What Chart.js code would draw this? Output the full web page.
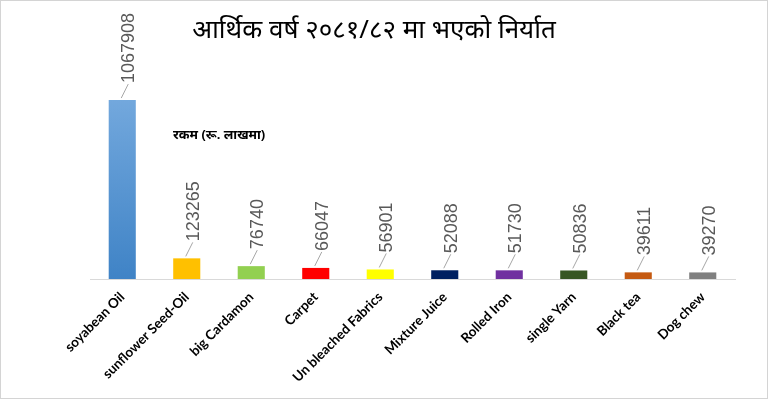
<!DOCTYPE html>
<html>
<head>
<meta charset="utf-8">
<script src="https://cdn.jsdelivr.net/npm/chart.js@4.4.1/dist/chart.umd.min.js"></script>
<style>
  html, body { margin: 0; padding: 0; background: #fff; }
  #wrap { position: relative; width: 768px; height: 399px; box-sizing: border-box; border: 1px solid #d4d4d4; }
</style>
</head>
<body>
<div id="wrap"><canvas id="exportChart"></canvas></div>
<script>
const products = ["soyabean Oil", "sunflower Seed-Oil", "big Cardamon", "Carpet", "Un bleached Fabrics",
  "Mixture Juice", "Rolled Iron", "single Yarn", "Black tea", "Dog chew"];
const amounts = [1067908, 123265, 76740, 66047, 56901, 52088, 51730, 50836, 39611, 39270];
const barColors = ["#5b9bd5", "#ffc000", "#92d050", "#ff0000", "#ffff00",
  "#002060", "#7030a0", "#375623", "#c55a11", "#808080"];
const chartTitle = "आर्थिक वर्ष २०८१/८२ मा भएको निर्यात";
const unitNote = "रकम (रू. लाखमा)";

// rotated value labels with a small leader line, like the excel export
const valueLabels = {
  id: "valueLabels",
  afterDatasetsDraw(chart) {
    const ctx = chart.ctx;
    const meta = chart.getDatasetMeta(0);
    ctx.save();
    ctx.font = "18px 'Liberation Sans', Arial, sans-serif";
    ctx.fillStyle = "#595959";
    ctx.strokeStyle = "#a6a6a6";
    ctx.lineWidth = 1;
    meta.data.forEach((bar, i) => {
      const x = bar.x, y = bar.y;
      ctx.beginPath();
      ctx.moveTo(x - 1, y - 2);
      ctx.lineTo(x + 6, y - 16);
      ctx.stroke();
      ctx.save();
      ctx.translate(x + 12, y - 17);
      ctx.rotate(-Math.PI / 2);
      ctx.textAlign = "left";
      ctx.textBaseline = "alphabetic";
      ctx.fillText(String(amounts[i]), 0, 0);
      ctx.restore();
    });
    ctx.restore();
  }
};

const headerText = {
  id: "headerText",
  afterDraw(chart) {
    const ctx = chart.ctx;
    ctx.save();
    ctx.fillStyle = "#000";
    ctx.textAlign = "center";
    ctx.textBaseline = "middle";
    ctx.font = "26px 'Noto Sans', sans-serif";
    ctx.fillText(chartTitle, 373, 30);
    ctx.textAlign = "left";
    ctx.font = "bold 13px 'Noto Sans', sans-serif";
    ctx.fillText(unitNote, 172, 134);
    ctx.restore();
  }
};

const ctx = document.getElementById("exportChart").getContext("2d");
new Chart(ctx, {
  type: "bar",
  data: {
    labels: products,
    datasets: [{
      data: amounts,
      backgroundColor: (c) => {
        if (c.dataIndex !== 0 || !c.chart.chartArea) return barColors[c.dataIndex];
        const a = c.chart.chartArea;
        const g = c.chart.ctx.createLinearGradient(0, a.top, 0, a.bottom);
        g.addColorStop(0, "#7eb0e2");
        g.addColorStop(1, "#3f83c6");
        return g;
      },
      barPercentage: 0.84,
      categoryPercentage: 0.5
    }]
  },
  options: {
    responsive: true,
    maintainAspectRatio: false,
    animation: false,
    layout: { padding: { left: 89, right: 32, top: 59, bottom: 0 } },
    plugins: {
      legend: { display: false },
      title: { display: false },
      tooltip: { enabled: false }
    },
    scales: {
      x: {
        grid: { display: false, drawTicks: false },
        border: { display: true, color: "#d9d9d9", width: 1 },
        ticks: {
          autoSkip: false,
          maxRotation: 45,
          minRotation: 45,
          padding: 10,
          color: "#000",
          font: { family: "Lato, 'Open Sans', sans-serif", size: 13.5, weight: "bold" }
        },
        afterFit: (s) => { s.height = 119; }
      },
      y: {
        display: false,
        min: 0,
        max: 1307000
      }
    }
  },
  plugins: [valueLabels, headerText]
});
</script>
</body>
</html>
